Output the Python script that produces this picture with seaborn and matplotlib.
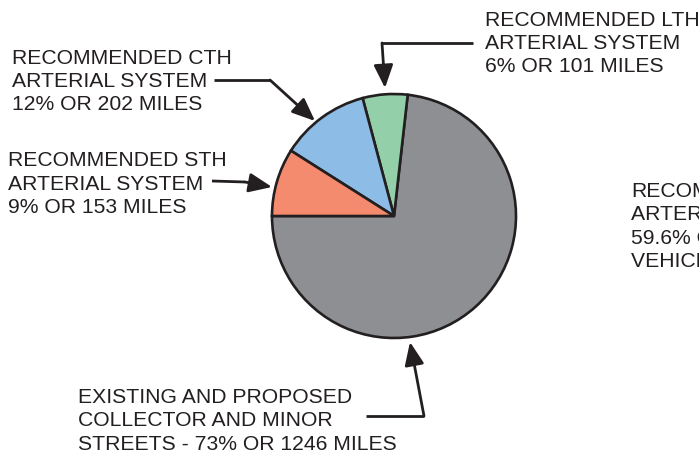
import matplotlib
matplotlib.use('Agg')
import matplotlib.pyplot as plt
import seaborn as sns

sns.set_theme(style='white')
plt.rcParams['font.family'] = ['Liberation Sans', 'DejaVu Sans']

# slices, in drawing order (counter-clockwise from 9 o'clock)
categories = ['COLLECTOR AND MINOR STREETS', 'LTH ARTERIAL', 'CTH ARTERIAL', 'STH ARTERIAL']
miles = [1246, 101, 202, 153]
percents = [73, 6, 12, 9]
colors = ['#8e8f93', '#93cfa9', '#8dbde6', '#f58b6e']

label_lines = {
    'LTH ARTERIAL': ['RECOMMENDED LTH', 'ARTERIAL SYSTEM', f'{percents[1]}% OR {miles[1]} MILES'],
    'CTH ARTERIAL': ['RECOMMENDED CTH', 'ARTERIAL SYSTEM', f'{percents[2]}% OR {miles[2]} MILES'],
    'STH ARTERIAL': ['RECOMMENDED STH', 'ARTERIAL SYSTEM', f'{percents[3]}% OR {miles[3]} MILES'],
    'COLLECTOR AND MINOR STREETS': ['EXISTING AND PROPOSED', 'COLLECTOR AND MINOR',
                                    f'STREETS - {percents[0]}% OR {miles[0]} MILES'],
}
# partly outside the frame in the original as well
side_note = ['RECOMMENDED', 'ARTERIAL SYSTEM', '59.6% OF TOTAL', 'VEHICLE MILES']

W, H = 699, 454
fig = plt.figure(figsize=(W / 100, H / 100), dpi=100)
fig.patch.set_facecolor('white')

# pie axes: centre (394, 216) px, radius 122 px
cx, cy, r = 394, 216, 122
pad = 1.05
ax = fig.add_axes([(cx - r * pad) / W, 1 - (cy + r * pad) / H, 2 * r * pad / W, 2 * r * pad / H])
ax.pie(miles, colors=colors, startangle=180, counterclock=True,
       wedgeprops=dict(edgecolor='#231f20', linewidth=1.9))
ax.set_xlim(-pad, pad)
ax.set_ylim(-pad, pad)
ax.set_aspect('equal')
ax.axis('off')

# overlay in pixel coordinates for the callouts
ov = fig.add_axes([0, 0, 1, 1])
ov.set_xlim(0, W)
ov.set_ylim(H, 0)
ov.axis('off')
ov.patch.set_alpha(0)

ink = '#231f20'
fs = 15.2
step = 23.4


def block(x, y0, lines):
    for i, s in enumerate(lines):
        ov.text(x, y0 + i * step, s, fontsize=fs, color=ink, ha='left', va='baseline')


def leader(pts):
    xs = [p[0] for p in pts[:-1]]
    ys = [p[1] for p in pts[:-1]]
    ov.plot(xs, ys, color=ink, lw=2.0, solid_capstyle='butt', solid_joinstyle='miter')
    ov.annotate('', xy=pts[-1], xytext=pts[-2],
                arrowprops=dict(arrowstyle='-|>,head_length=1.0,head_width=0.42',
                                mutation_scale=14, color=ink, lw=2.0,
                                shrinkA=0, shrinkB=0))


block(485, 25.5, label_lines['LTH ARTERIAL'])
leader([(473, 43), (382, 43), (385, 88)])

block(12, 63.5, label_lines['CTH ARTERIAL'])
leader([(214, 80), (270, 80), (315, 121)])

block(8, 166.5, label_lines['STH ARTERIAL'])
leader([(212, 181), (245, 182), (272, 187)])

block(78, 403, label_lines['COLLECTOR AND MINOR STREETS'])
leader([(366, 416), (424, 416), (410, 342)])

block(631, 197, side_note)

fig.savefig('out.png', dpi=100, facecolor='white')
